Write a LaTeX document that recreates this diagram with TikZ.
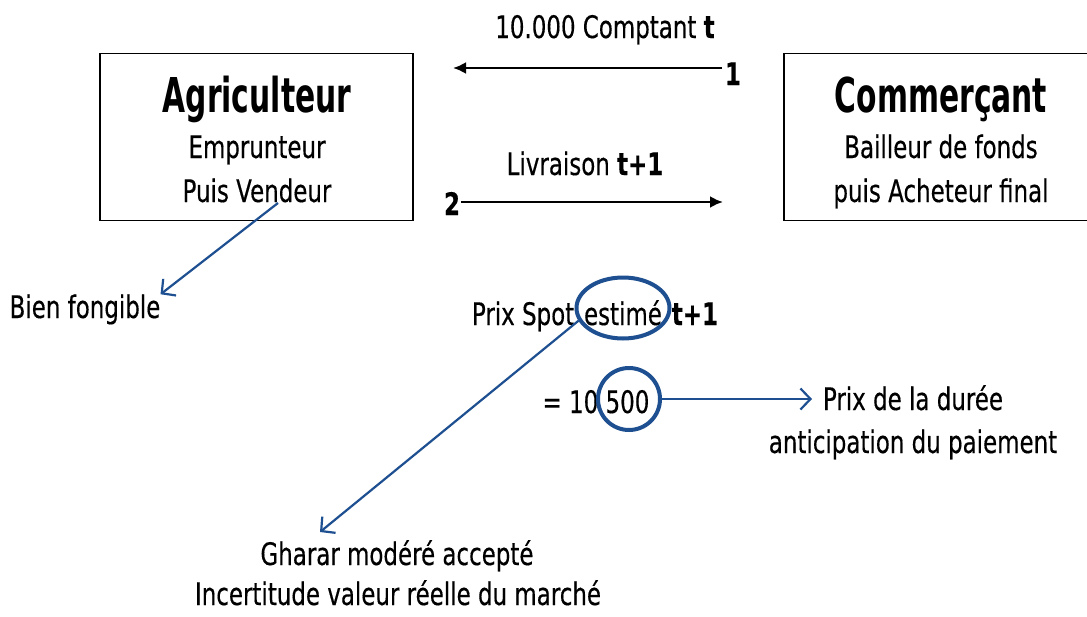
\documentclass[tikz,border=0pt]{standalone}
\usepackage{fontspec}
\setmainfont{DejaVu Sans}[FakeStretch=0.74,FakeBold=0.35]
\newfontfamily\titlefam{DejaVu Sans}[FakeStretch=0.62]
\usetikzlibrary{arrows.meta,shapes.geometric}
\definecolor{myblue}{RGB}{30,80,145}
\tikzset{
  txt/.style={anchor=base,inner sep=0pt,font=\fontsize{31}{36}\selectfont},
  ttl/.style={anchor=base,inner sep=0pt,font=\titlefam\bfseries\fontsize{48}{54}\selectfont},
  num/.style={anchor=base,inner sep=0pt,font=\bfseries\fontsize{31}{36}\selectfont},
  actor/.style={draw=black,line width=1.8pt,rectangle,minimum width=313pt,minimum height=167pt,inner sep=0pt},
  blackarrow/.style={line width=2.4pt,-{Latex[length=13pt,width=12pt]}},
  bluearrow/.style={draw=myblue,line width=2.2pt,-{Straight Barb[length=10pt,width=21pt,line width=2.2pt]}},
  ring/.style={draw=myblue,line width=4pt,ellipse,inner sep=0pt},
}
\begin{document}
\begin{tikzpicture}[x=1pt,y=-1pt]
\clip (0,0) rectangle (1087,616);
\fill[white] (0,0) rectangle (1087,616);
% boxes
\node[actor] (agri) at (256.5,137) {};
\node[actor] (comm) at (940.5,137) {};
\node[ttl] (agrit) at (257,112) {Agriculteur};
\node[txt] (agr1) at (257,158) {Emprunteur};
\node[txt] (agr2) at (257,202) {Puis Vendeur};
\node[ttl] (commt) at (941,112) {Commerçant};
\node[txt] (com1) at (941,158) {Bailleur de fonds};
\node[txt] (com2) at (941,202) {puis Acheteur final};
% top arrows
\node[txt] (lab1) at (605,38) {10.000 Comptant \textbf{t}};
\node[num] (one) at (733,85) {1};
\coordinate (a1s) at (722,68);
\coordinate (a1e) at (453,68);
\draw[blackarrow] (a1s) -- (a1e);
\node[txt] (lab2) at (585,175) {Livraison \textbf{t+1}};
\node[num] (two) at (452,215) {2};
\coordinate (a2s) at (461,202);
\coordinate (a2e) at (723,202);
\draw[blackarrow] (a2s) -- (a2e);
% bien fongible
\node[txt] (bien) at (85,318) {Bien fongible};
\coordinate (vend) at (278,203);
\draw[bluearrow] (vend) -- (bien.north east);
% prix spot
\node[txt] (spot) at (595,325) {Prix Spot \phantom{estimé}\, \textbf{t+1}};
\node[txt] (estw) at (623,325) {estimé};
\node[ring,minimum width=93pt,minimum height=61pt] (est) at (623,308) {};
\node[txt] (val) at (596,413) {= 10 500};
\node[ring,minimum width=62pt,minimum height=62pt] (c500) at (629,399) {};
\node[txt] (dur1) at (913,410) {Prix de la durée};
\node[txt] (dur2) at (913,453) {anticipation du paiement};
\coordinate (ptip) at (812,399);
\draw[bluearrow] (c500.east) -- (ptip);
\node[txt] (gh1) at (397,565) {Gharar modéré accepté};
\node[txt] (gh2) at (398,605) {Incertitude valeur réelle du marché};
\coordinate (gtip) at (320,532);
\draw[bluearrow] (est.196) -- (gtip);
\end{tikzpicture}
\end{document}
